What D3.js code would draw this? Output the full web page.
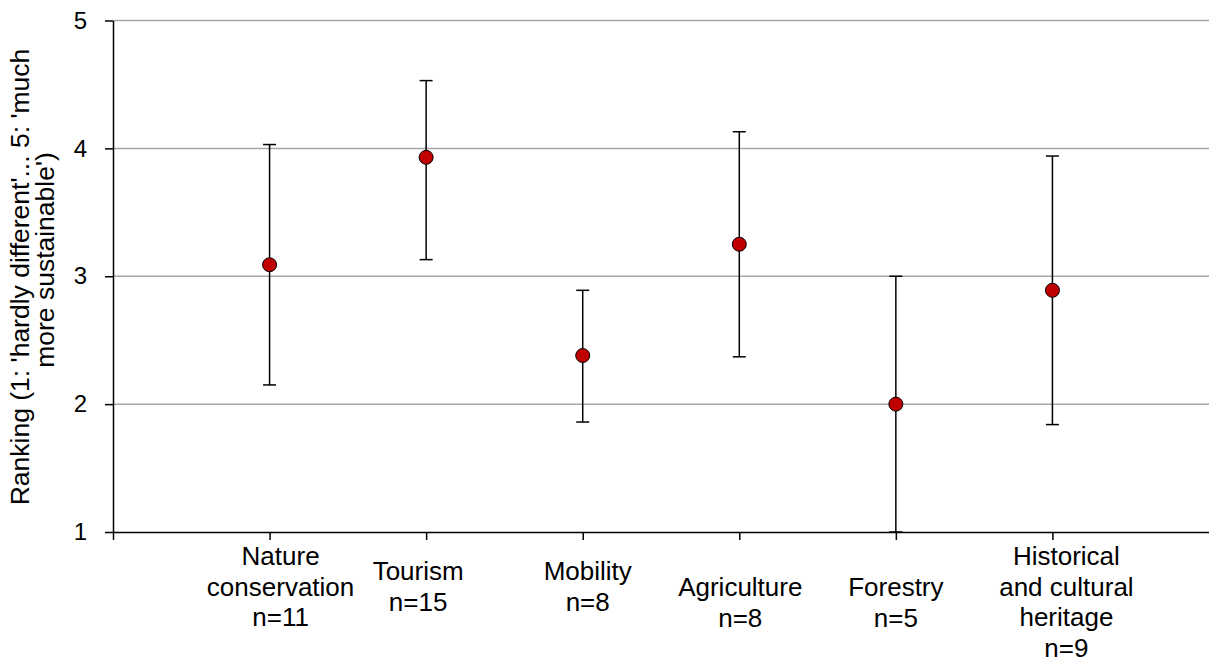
<!DOCTYPE html>
<html>
<head>
<meta charset="utf-8">
<script src="https://cdn.jsdelivr.net/npm/d3@7"></script>
<style>
    html, body { margin: 0; padding: 0; background: #fff; }
    svg text { font-family: Arial, "Liberation Sans", sans-serif; fill: #000; }
</style>
</head>
<body>
<div id="chart"></div>
<script>
/**
 * Category names, one entry per line of the axis label.
 * @type Array
 */
var CATEGORIES = [
    ['Nature', 'conservation', 'n=11'],
    ['Tourism', 'n=15'],
    ['Mobility', 'n=8'],
    ['Agriculture', 'n=8'],
    ['Forestry', 'n=5'],
    ['Historical', 'and cultural', 'heritage', 'n=9']
];
/**
 * Mean ranking per category.
 * @type Array
 */
var MEANS = [3.09, 3.93, 2.38, 3.25, 2.00, 2.89];
/**
 * Upper and lower ends of the error bars.
 * @type Array
 */
var UPPER = [4.03, 4.53, 2.89, 4.13, 3.00, 3.94];
var LOWER = [2.15, 3.13, 1.86, 2.37, 1.00, 1.84];
/**
 * Y axis ticks.
 * @type Array
 */
var Y_TICKS = [1, 2, 3, 4, 5];
var Y_TITLE = ["Ranking (1: 'hardly different'... 5: 'much", "more sustainable')"];

var WIDTH = 1209, HEIGHT = 658;
var MARGIN = {top: 20.5, right: 0, bottom: 126, left: 113};

// label placement, the way the spreadsheet wrapped them
var LABEL_DX = [11, -8, 5, 1, 0, 14];
var LABEL_DY = [33, 48, 48, 64, 64, 33];
var LINE_HEIGHT = 30.5;

drawChart = function() {
    var svg = d3.select('#chart')
        .append('svg')
        .attr('width', WIDTH)
        .attr('height', HEIGHT);

    var x = d3.scaleLinear()
        .domain([0, CATEGORIES.length + 1])
        .range([MARGIN.left, WIDTH - MARGIN.right]);
    var y = d3.scaleLinear()
        .domain([1, 5])
        .range([HEIGHT - MARGIN.bottom, MARGIN.top]);

    // gridlines
    svg.append('g')
        .selectAll('line')
        .data(Y_TICKS.slice(1))
        .enter()
        .append('line')
        .attr('x1', MARGIN.left)
        .attr('x2', WIDTH)
        .attr('y1', function(d) { return y(d); })
        .attr('y2', function(d) { return y(d); })
        .attr('stroke', '#a6a6a6')
        .attr('stroke-width', 1.5);

    // y axis
    var yAxis = svg.append('g')
        .attr('transform', 'translate(' + MARGIN.left + ',0)')
        .call(d3.axisLeft(y)
            .tickValues(Y_TICKS)
            .tickFormat(d3.format('d'))
            .tickSize(8)
            .tickSizeOuter(0)
            .tickPadding(18));
    yAxis.selectAll('path, line').attr('stroke', '#000').attr('stroke-width', 1.5);
    yAxis.selectAll('text')
        .attr('font-size', 24)
        .attr('font-family', 'Arial, "Liberation Sans", sans-serif')
        .attr('fill', '#000');

    // x axis
    var xAxis = svg.append('g')
        .attr('transform', 'translate(0,' + y(1) + ')')
        .call(d3.axisBottom(x)
            .tickValues(d3.range(0, CATEGORIES.length + 1))
            .tickFormat('')
            .tickSize(8)
            .tickSizeOuter(0));
    xAxis.selectAll('path, line').attr('stroke', '#000').attr('stroke-width', 1.5);

    // category labels
    var labels = svg.append('g')
        .selectAll('text')
        .data(CATEGORIES)
        .enter()
        .append('text')
        .attr('text-anchor', 'middle')
        .attr('font-size', 26)
        .attr('x', function(d, i) { return x(i + 1) + LABEL_DX[i]; })
        .attr('y', function(d, i) { return y(1) + LABEL_DY[i]; });
    labels.each(function(d, i) {
        var t = d3.select(this);
        d.forEach(function(line, j) {
            t.append('tspan')
                .attr('x', x(i + 1) + LABEL_DX[i])
                .attr('dy', j === 0 ? 0 : LINE_HEIGHT)
                .text(line);
        });
    });

    // y title, two lines
    svg.append('text')
        .attr('transform', 'translate(29,277) rotate(-90)')
        .attr('text-anchor', 'middle')
        .attr('font-size', 26.5)
        .text(Y_TITLE[0]);
    svg.append('text')
        .attr('transform', 'translate(54,260) rotate(-90)')
        .attr('text-anchor', 'middle')
        .attr('font-size', 26.5)
        .text(Y_TITLE[1]);

    // error bars
    var bars = svg.append('g')
        .selectAll('g')
        .data(MEANS)
        .enter()
        .append('g')
        .attr('stroke', '#000')
        .attr('stroke-width', 1.5);
    bars.append('line')
        .attr('x1', function(d, i) { return x(i + 1); })
        .attr('x2', function(d, i) { return x(i + 1); })
        .attr('y1', function(d, i) { return y(UPPER[i]); })
        .attr('y2', function(d, i) { return y(LOWER[i]); });
    [UPPER, LOWER].forEach(function(arr) {
        bars.append('line')
            .attr('x1', function(d, i) { return x(i + 1) - 6.5; })
            .attr('x2', function(d, i) { return x(i + 1) + 6.5; })
            .attr('y1', function(d, i) { return y(arr[i]); })
            .attr('y2', function(d, i) { return y(arr[i]); });
    });

    // means
    svg.append('g')
        .selectAll('circle')
        .data(MEANS)
        .enter()
        .append('circle')
        .attr('cx', function(d, i) { return x(i + 1); })
        .attr('cy', function(d) { return y(d); })
        .attr('r', 7)
        .attr('fill', '#c00000')
        .attr('stroke', '#000')
        .attr('stroke-width', 1);
};

drawChart();
</script>
</body>
</html>
